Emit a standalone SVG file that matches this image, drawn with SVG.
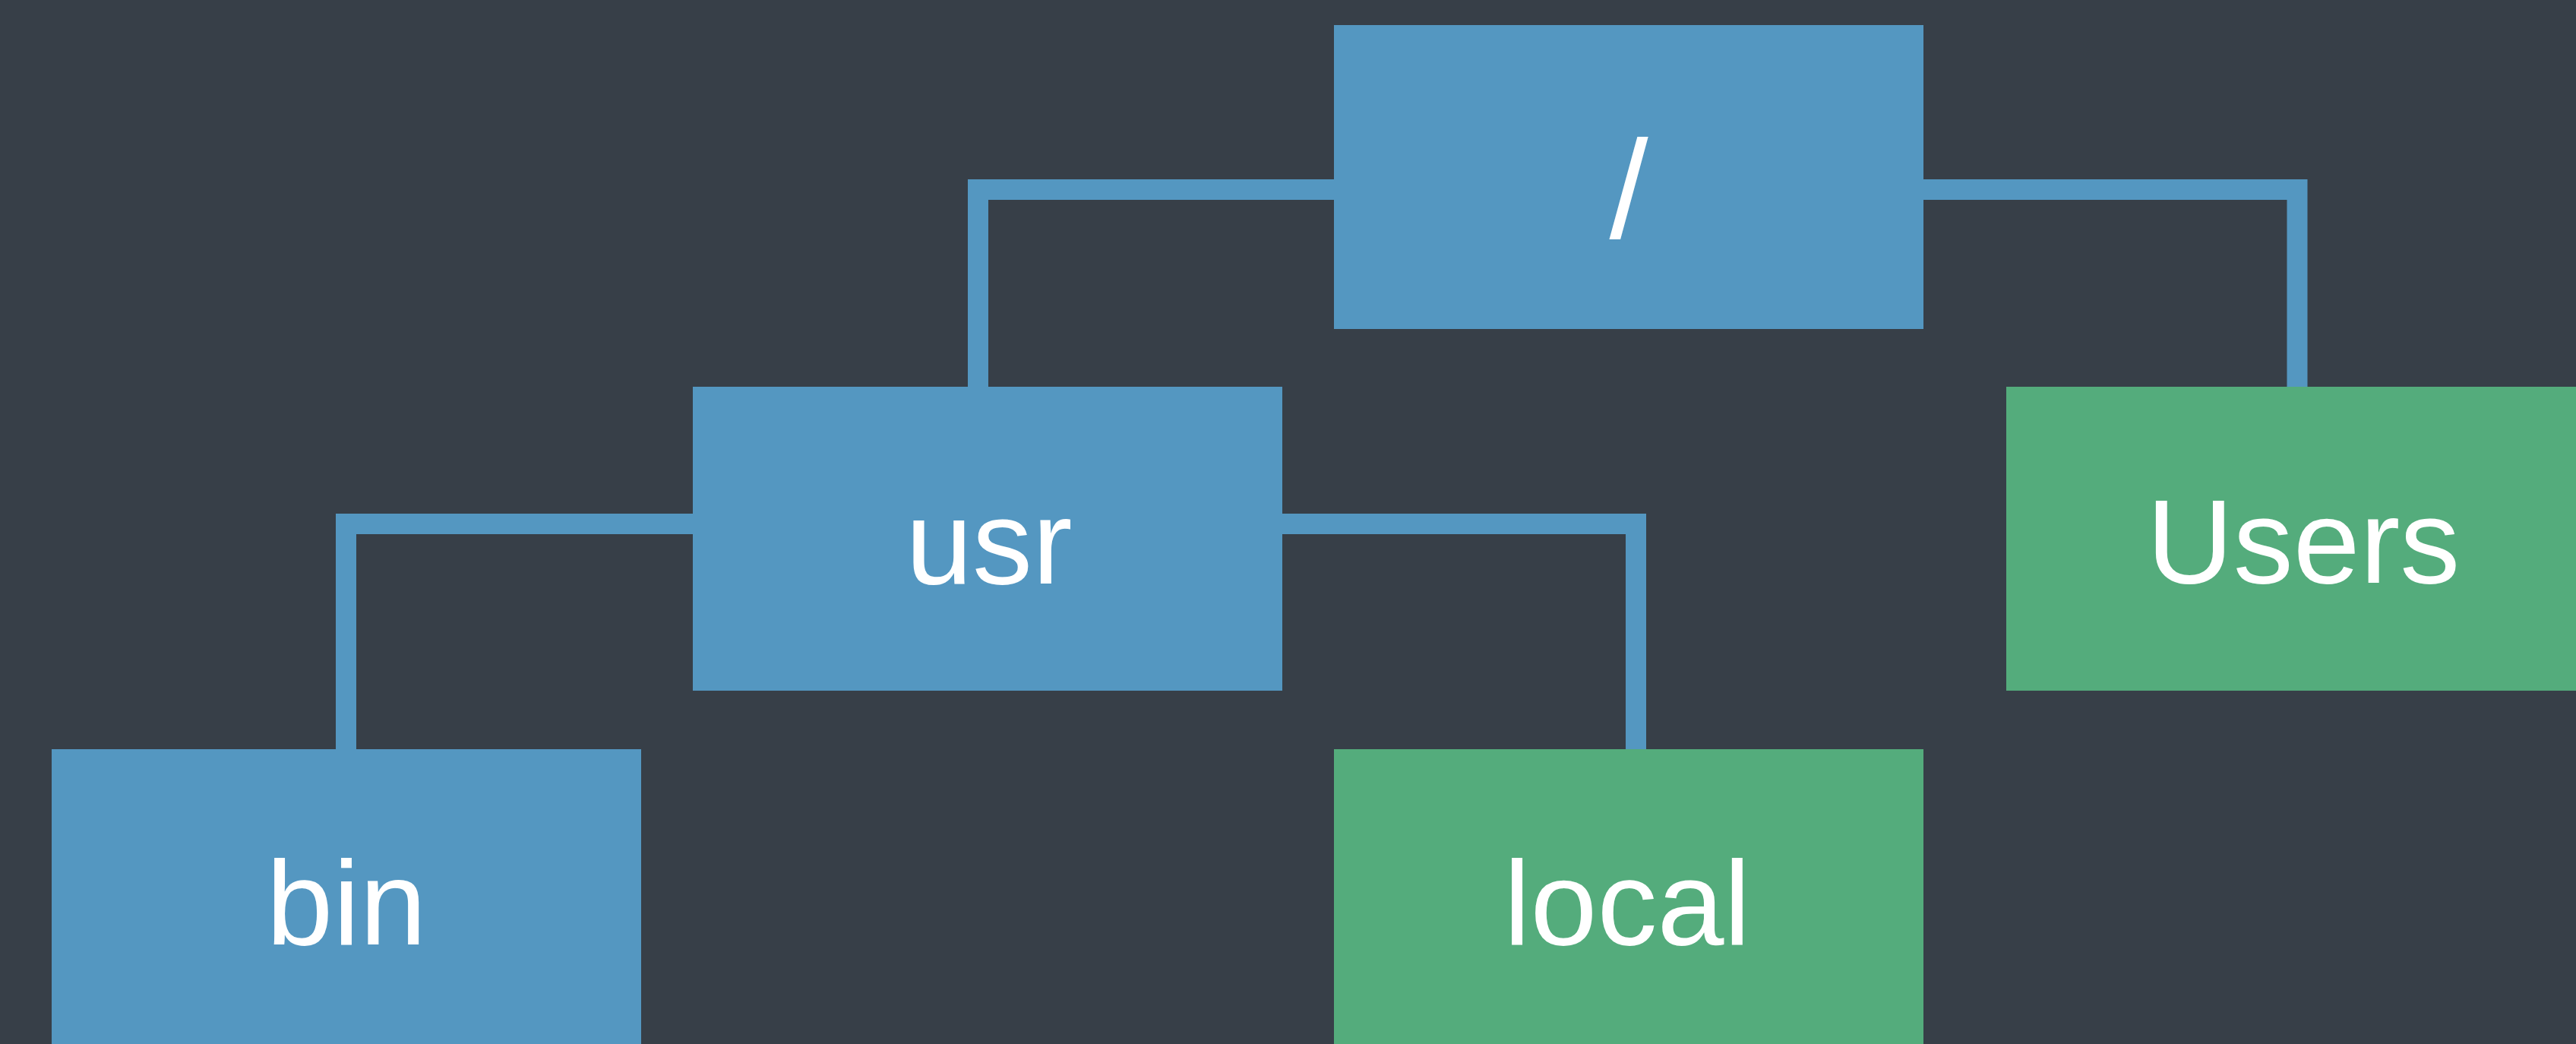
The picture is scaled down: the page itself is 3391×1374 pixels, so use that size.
<svg xmlns="http://www.w3.org/2000/svg" width="3391" height="1374" viewBox="0 0 3391 1374">
  <style>
    .blue { fill: #5497C1; }
    .green { fill: #54AC7C; }
    .label { fill: #FFFFFF; font-family: "Liberation Sans", Arial, sans-serif; font-size: 158px; text-anchor: middle; }
    .conn { fill: none; stroke: #5497C1; stroke-width: 27; stroke-linejoin: miter; stroke-linecap: butt; }
  </style>
  <rect x="0" y="0" width="3391" height="1374" fill="#373F48"/>
  <g id="connectors">
    <path class="conn" d="M 1756 249.5 H 1287.5 V 509"/>
    <path class="conn" d="M 2532 249.5 H 3024 V 509"/>
    <path class="conn" d="M 912 689.5 H 455.5 V 986"/>
    <path class="conn" d="M 1688 689.5 H 2153.5 V 986"/>
  </g>
  <g id="node-root">
    <rect class="blue" x="1756" y="33" width="776" height="400"/>
    <text class="label" x="2144" y="313" style="font-size:184px">/</text>
  </g>
  <g id="node-usr">
    <rect class="blue" x="912" y="509" width="776" height="400"/>
    <text class="label" x="1302" y="768">usr</text>
  </g>
  <g id="node-Users">
    <rect class="green" x="2641" y="509" width="776" height="400"/>
    <text class="label" x="3032" y="767">Users</text>
  </g>
  <g id="node-bin">
    <rect class="blue" x="68" y="986" width="776" height="400"/>
    <text class="label" x="456" y="1243">bin</text>
  </g>
  <g id="node-local">
    <rect class="green" x="1756" y="986" width="776" height="400"/>
    <text class="label" x="2142" y="1243">local</text>
  </g>
</svg>
